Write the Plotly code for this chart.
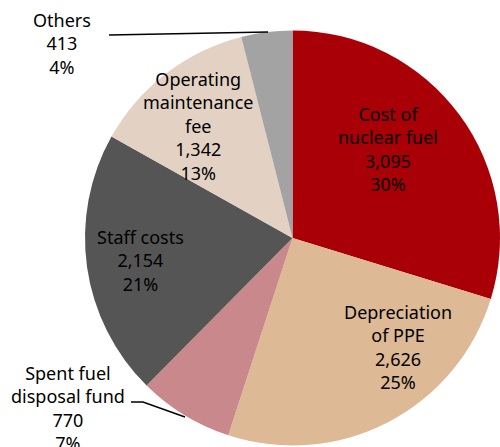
import plotly.graph_objects as go

labels = ["Cost of<br>nuclear fuel", "Depreciation<br>of PPE", "Spent fuel<br>disposal fund",
          "Staff costs", "Operating<br>maintenance<br>fee", "Others"]
values = [3095, 2626, 770, 2154, 1342, 413]
colors = ["#A80006", "#DDB995", "#C9888B", "#555555", "#E3D2C3", "#A3A3A3"]

# label anchor positions in pixels (x, y center of text block)
label_pos = [(388, 149), (398, 347), (68, 408), (140, 260), (198, 126), (62, 43)]

W, H = 500, 447
total = sum(values)

fig = go.Figure(go.Pie(
    labels=labels, values=values, sort=False, direction="clockwise", rotation=0,
    marker=dict(colors=colors, line=dict(width=0)),
    textinfo="none", hoverinfo="label+value+percent",
    domain=dict(x=[0.17, 1.0], y=[0.0022, 0.933]),
    showlegend=False,
))

annotations = []
for lab, v, (px, py) in zip(labels, values, label_pos):
    pct = round(v / total * 100)
    annotations.append(dict(
        x=px / W, y=1 - py / H, xref="paper", yref="paper",
        text=f"{lab}<br>{v:,}<br>{pct}%", showarrow=False,
        xanchor="center", yanchor="middle", align="center",
        font=dict(family="Noto Sans", size=18, color="#000000"),
    ))

shapes = [
    dict(type="line", xref="paper", yref="paper",
         x0=109 / W, y0=1 - 35 / H, x1=268 / W, y1=1 - 32 / H,
         line=dict(color="black", width=1.5)),
    dict(type="path", xref="paper", yref="paper",
         path=f"M {131/W},{1-402/H} L {143/W},{1-402/H} L {185/W},{1-417/H}",
         line=dict(color="black", width=1.5)),
]

fig.update_layout(
    width=W, height=H, margin=dict(l=0, r=0, t=0, b=0),
    paper_bgcolor="white", plot_bgcolor="white",
    annotations=annotations, shapes=shapes,
)
fig.write_html(
    "out.html",
    config={"displayModeBar": False},
    post_script="document.body.style.margin='0';document.body.style.overflow='hidden';",
)
